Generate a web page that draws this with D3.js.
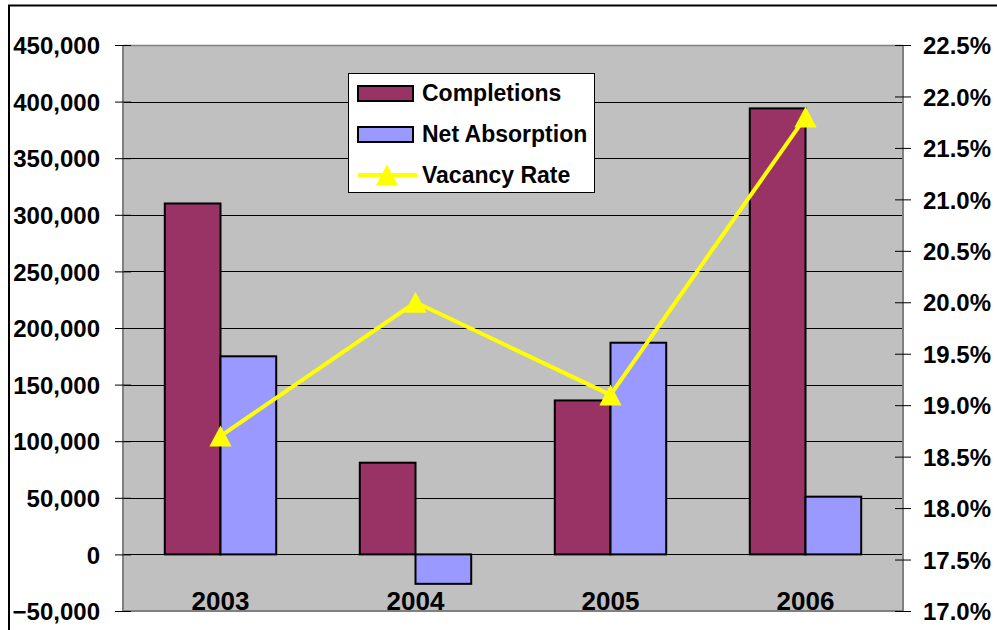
<!DOCTYPE html>
<html>
<head>
<meta charset="utf-8">
<script src="https://cdn.jsdelivr.net/npm/d3@7"></script>
<style>
  html, body { margin: 0; padding: 0; background: #fff; }
  svg { display: block; }
  text { font-family: Arial, "Liberation Sans", sans-serif; font-weight: bold; fill: #000; }
</style>
</head>
<body>
<svg id="chart" width="997" height="630"></svg>
<script>
// ---- data ----
const years = ["2003", "2004", "2005", "2006"];
const completions = [310000, 81000, 136000, 394000];
const netAbsorption = [175000, -26000, 187000, 51000];
const vacancyRate = [18.7, 20.0, 19.1, 21.8];
const leftTicks = [-50000, 0, 50000, 100000, 150000, 200000, 250000, 300000, 350000, 400000, 450000];
const rightTicks = [17.0, 17.5, 18.0, 18.5, 19.0, 19.5, 20.0, 20.5, 21.0, 21.5, 22.0, 22.5];
const seriesNames = ["Completions", "Net Absorption", "Vacancy Rate"];

// ---- layout ----
const plot = { left: 123, right: 903, top: 45, bottom: 611 };
const colors = { comp: "#993366", net: "#9999FF", vac: "#FFFF00", bg: "#C0C0C0" };

const svg = d3.select("#chart");

// outer chart border
svg.append("rect")
  .attr("x", 9).attr("y", 5.5).attr("width", 1100).attr("height", 800)
  .attr("fill", "#fff").attr("stroke", "#000").attr("stroke-width", 2);

const yL = d3.scaleLinear().domain([-50000, 450000]).range([plot.bottom, plot.top]);
const yR = d3.scaleLinear().domain([17.0, 22.5]).range([plot.bottom, plot.top]);
const x0 = d3.scaleBand().domain(years).range([plot.left, plot.right]).padding(0);
const x1 = d3.scaleBand().domain(["comp", "net"]).range([0, x0.bandwidth()]).paddingInner(0).paddingOuter(0.75);

// plot background
svg.append("rect")
  .attr("x", plot.left).attr("y", plot.top)
  .attr("width", plot.right - plot.left).attr("height", plot.bottom - plot.top)
  .attr("fill", colors.bg);

// gridlines
svg.append("g").selectAll("line")
  .data(leftTicks.filter(d => d > -50000 && d < 450000))
  .join("line")
  .attr("x1", plot.left).attr("x2", plot.right)
  .attr("y1", d => Math.round(yL(d)) + 0.5).attr("y2", d => Math.round(yL(d)) + 0.5)
  .attr("stroke", "#000").attr("stroke-width", 1);

// plot border (top/bottom gray)
svg.append("line").attr("x1", plot.left).attr("x2", plot.right)
  .attr("y1", plot.top + 0.5).attr("y2", plot.top + 0.5).attr("stroke", "#808080").attr("stroke-width", 1.5);
svg.append("line").attr("x1", plot.left).attr("x2", plot.right)
  .attr("y1", plot.bottom).attr("y2", plot.bottom).attr("stroke", "#808080").attr("stroke-width", 2);

// bars
const barData = [];
years.forEach((y, i) => {
  barData.push({ year: y, key: "comp", v: completions[i] });
  barData.push({ year: y, key: "net", v: netAbsorption[i] });
});
svg.append("g").selectAll("rect")
  .data(barData)
  .join("rect")
  .attr("x", d => x0(d.year) + x1(d.key))
  .attr("width", x1.bandwidth())
  .attr("y", d => yL(Math.max(0, d.v)))
  .attr("height", d => Math.abs(yL(d.v) - yL(0)))
  .attr("fill", d => colors[d.key])
  .attr("stroke", "#000").attr("stroke-width", 2);

// left axis
const gL = svg.append("g").attr("transform", `translate(${plot.left},0)`);
gL.call(d3.axisLeft(yL).tickValues(leftTicks).tickSize(8).tickPadding(15)
  .tickFormat(d => d3.format(",")(d)));
gL.select(".domain").attr("stroke", "#808080").attr("stroke-width", 2).attr("d", `M0,${plot.top}V${plot.bottom}`);
gL.selectAll(".tick line").attr("x2", -8).attr("x1", 8).attr("stroke", "#000");
gL.selectAll(".tick text").attr("font-size", 24).attr("font-family", "Arial, 'Liberation Sans', sans-serif")
  .attr("font-weight", "bold").attr("fill", "#000").attr("dy", "0.36em").attr("x", -23);

// right axis
const gR = svg.append("g").attr("transform", `translate(${plot.right},0)`);
gR.call(d3.axisRight(yR).tickValues(rightTicks).tickSize(8).tickPadding(12)
  .tickFormat(d => d.toFixed(1) + "%"));
gR.select(".domain").attr("stroke", "#808080").attr("stroke-width", 2).attr("d", `M0,${plot.top}V${plot.bottom}`);
gR.selectAll(".tick line").attr("x1", -8).attr("x2", 8).attr("stroke", "#000");
gR.selectAll(".tick text").attr("font-size", 24).attr("font-family", "Arial, 'Liberation Sans', sans-serif")
  .attr("font-weight", "bold").attr("fill", "#000").attr("dy", "0.36em").attr("x", 20);

// category labels
svg.append("g").selectAll("text")
  .data(years)
  .join("text")
  .attr("x", d => x0(d) + x0.bandwidth() / 2)
  .attr("y", plot.bottom - 1)
  .attr("text-anchor", "middle")
  .attr("font-size", 26)
  .text(d => d);

// vacancy line
const lineGen = d3.line()
  .x((d, i) => x0(years[i]) + x0.bandwidth() / 2)
  .y(d => yR(d));
svg.append("path")
  .datum(vacancyRate)
  .attr("d", lineGen)
  .attr("fill", "none").attr("stroke", colors.vac).attr("stroke-width", 4);

// triangle marker type centered on bounding box
const triType = {
  draw(ctx, size) {
    const h = Math.sqrt(size);
    ctx.moveTo(0, -h / 2);
    ctx.lineTo(h * 0.53, h / 2);
    ctx.lineTo(-h * 0.53, h / 2);
    ctx.closePath();
  }
};
const tri = d3.symbol().type(triType).size(441);
svg.append("g").selectAll("path")
  .data(vacancyRate)
  .join("path")
  .attr("transform", (d, i) => `translate(${x0(years[i]) + x0.bandwidth() / 2},${yR(d)})`)
  .attr("d", tri)
  .attr("fill", colors.vac);

// legend
const lg = svg.append("g");
lg.append("rect").attr("x", 348.5).attr("y", 73.5).attr("width", 246).attr("height", 119)
  .attr("fill", "#fff").attr("stroke", "#000").attr("stroke-width", 1);
const rowsY = [93, 134, 175];
[["comp", 0], ["net", 1]].forEach(([k, i]) => {
  lg.append("rect").attr("x", 358).attr("y", rowsY[i] - 7).attr("width", 55).attr("height", 15)
    .attr("fill", colors[k]).attr("stroke", "#000").attr("stroke-width", 2);
});
lg.append("line").attr("x1", 358).attr("x2", 417).attr("y1", rowsY[2]).attr("y2", rowsY[2])
  .attr("stroke", colors.vac).attr("stroke-width", 4);
lg.append("path").attr("transform", `translate(387,${rowsY[2]})`).attr("d", tri).attr("fill", colors.vac);
seriesNames.forEach((n, i) => {
  lg.append("text").attr("x", 422).attr("y", rowsY[i]).attr("dy", "0.36em")
    .attr("font-size", 23).text(n);
});
</script>
</body>
</html>
